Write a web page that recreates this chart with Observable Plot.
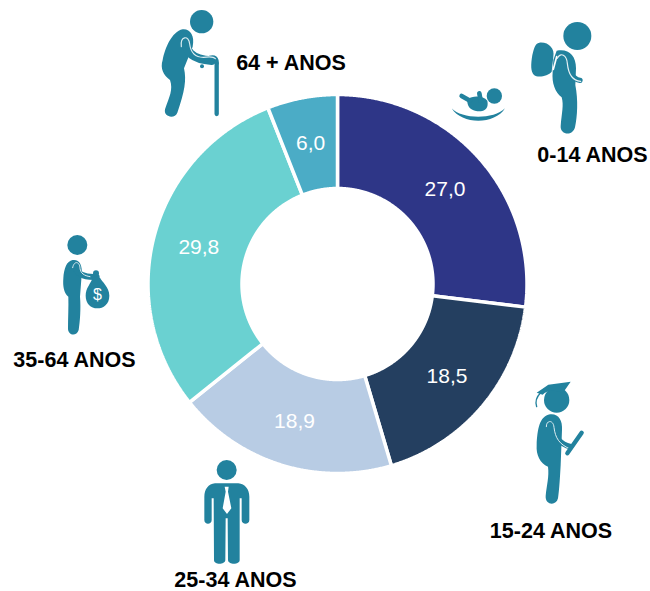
<!DOCTYPE html>
<html>
<head>
<meta charset="utf-8">
<script src="https://cdn.jsdelivr.net/npm/d3@7"></script>
<script src="https://cdn.jsdelivr.net/npm/@observablehq/plot@0.6"></script>
<style>
html,body{margin:0;padding:0;background:#fff}
svg{display:block}
</style>
</head>
<body>
<div id="chart"></div>
<script>
// --- Data ---
const categories = ["0-14 ANOS", "15-24 ANOS", "25-34 ANOS", "35-64 ANOS", "64 + ANOS"];
const values = [27.0, 18.5, 18.9, 29.8, 6.0];
const valueLabels = ["27,0", "18,5", "18,9", "29,8", "6,0"];
const colors = ["#2e3687", "#243f60", "#b8cce4", "#6ad1d1", "#4bacc6"];

// --- Layout (page pixels) ---
const W = 650, H = 591;
const cx = 337, cy = 283.5, R = 189.5, r0 = 95.5, rText = 143.5;
const labelX = [592, 550.5, 235, 74, 290.5];
const labelY = [155, 531, 579.5, 360, 63];
const TEAL = "#22829e";

const sum = d3.sum(values);
const polar = (a, rad) => ({x: cx + rad * Math.sin(a), y: cy - rad * Math.cos(a)});
const slices = [];
const wedgePts = [];
let acc = 0;
categories.forEach((c, i) => {
  const a0 = acc / sum * 2 * Math.PI;
  acc += values[i];
  const a1 = acc / sum * 2 * Math.PI;
  const n = Math.ceil((a1 - a0) / 0.005);
  for (let k = 0; k <= n; k++) wedgePts.push({c, ...polar(a0 + (a1 - a0) * k / n, R)});
  for (let k = n; k >= 0; k--) wedgePts.push({c, ...polar(a0 + (a1 - a0) * k / n, r0)});
  slices.push({c, label: valueLabels[i], ...polar((a0 + a1) / 2, rText)});
});
const labels = categories.map((c, i) => ({c, x: labelX[i], y: labelY[i]}));

// --- Pictograms, authored as [dx, dy, shapes] at 3x scale ---
const P = (d, o = {}) => ({d, ...o});
const C = (x, y, rad) => P(`M${x - rad} ${y}a${rad} ${rad} 0 1 0 ${2 * rad} 0a${rad} ${rad} 0 1 0 ${-2 * rad} 0Z`);
const S = (d, w, col = TEAL) => ({d, stroke: col, sw: w});
const icons = [
  // elderly
  [140, 0, [
    C(185, 65, 35),
    P("M128 88C150 86 165 106 158 140L132 205C140 240 134 275 112 338C105 358 70 352 75 328C88 290 100 270 90 240C70 225 60 205 68 180C75 145 95 95 128 88Z"),
    S("M136 118C136 150 150 178 215 182", 26),
    S("M198 178C226 164 232 176 230 196L230 342", 13),
    C(186, 199, 6),
    S("M124 140C120 108 146 104 149 132C152 155 165 172 190 172C205 170 220 168 226 176", 3.5, "#dcecf1")
  ]],
  // child with backpack
  [440, 10, [
    C(412, 78, 42),
    P("M298 98C325 95 345 115 340 140L335 185C325 197 295 205 282 195C272 185 272 165 277 135C282 115 285 100 298 98Z"),
    P("M350 122C385 115 408 135 408 175L406 225C415 270 412 320 405 352C398 380 360 375 362 348C365 310 372 285 365 262C345 245 335 220 338 185L340 150Z"),
    S("M380 150C385 180 395 208 420 211", 16),
    S("M352 145C362 125 380 135 382 160C385 190 395 212 422 214", 3.5, "#e6f1f4"),
    S("M350 140L340 178", 5, "#fff"),
    // baby
    C(163, 258, 23),
    P("M82 268C100 255 130 258 142 272C146 292 138 305 112 304C92 302 80 290 82 268Z"),
    S("M65 258L90 272", 14),
    S("M118 250L122 272", 14),
    P("M35 295C65 328 160 330 195 295C165 345 65 345 35 295Z")
  ]],
  // money bag
  [0, 225, [
    C(232, 60, 30),
    P("M218 105C238 102 248 120 245 150L240 215C243 250 240 290 236 315C230 335 205 332 204 312C204 280 206 245 205 215C192 205 188 185 190 160C192 130 200 108 218 105Z"),
    S("M226 125C232 150 255 158 290 156", 18),
    S("M218 128C222 105 240 110 240 130C242 145 252 152 270 155", 3, "#dcecf1"),
    C(288, 145, 9),
    P("M278 158L300 158C305 170 328 185 328 212C328 238 310 250 292 250C272 250 257 235 257 212C257 188 273 175 278 158Z"),
    {text: "$", x: 292, y: 225, size: 48}
  ]],
  // suit
  [170, 450, [
    C(170, 60, 30),
    P("M135 100L205 100C225 102 238 118 238 140L238 210C238 225 215 225 215 210L215 145L209 145L209 330C209 345 175 345 174 330L173 205L167 205L166 330C165 345 132 345 132 330L131 145L125 145L125 210C125 225 103 225 103 210L103 140C103 118 115 102 135 100Z"),
    P("M164 110L176 110L174 125L184 175L171 192L158 175L167 125Z", {fill: "#fff"})
  ]],
  // graduate
  [480, 370, [
    C(230, 90, 38),
    P("M170 68L205 44L272 35L248 70C228 58 200 60 188 74Z"),
    S("M182 68C170 80 165 95 170 110", 4),
    P("M210 133C235 130 248 150 246 180L242 285C240 320 238 360 234 385C228 410 195 405 197 378C200 345 208 320 204 290C180 280 168 255 170 225C172 180 178 138 210 133Z"),
    S("M222 170C225 205 240 222 272 230", 17),
    S("M199 170C198 150 220 148 222 172C226 205 238 222 268 236", 3, "#dcecf1"),
    S("M262 250L305 188", 13)
  ]]
];

const iconMark = (index, {x, y}) => {
  const g = d3.create("svg:g");
  icons.forEach(([dx, dy, shapes]) => {
    const ig = g.append("g").attr("transform", `translate(${x(dx)},${y(dy)}) scale(${1 / 3})`);
    shapes.forEach(s => {
      if (s.text) {
        ig.append("text").attr("x", s.x).attr("y", s.y).attr("text-anchor", "middle")
          .attr("fill", "#fff").attr("font-family", "Liberation Sans").attr("font-size", s.size).text(s.text);
      } else if (s.stroke) {
        ig.append("path").attr("d", s.d).attr("fill", "none").attr("stroke", s.stroke)
          .attr("stroke-width", s.sw).attr("stroke-linecap", "round").attr("stroke-linejoin", "round");
      } else {
        ig.append("path").attr("d", s.d).attr("fill", s.fill || TEAL);
      }
    });
  });
  return g.node();
};

const chart = Plot.plot({
  width: W, height: H,
  margin: 0,
  style: {background: "#fff", overflow: "visible"},
  x: {domain: [0, W], range: [0, W], axis: null},
  y: {domain: [0, H], range: [0, H], axis: null},
  color: {domain: categories, range: colors},
  marks: [
    Plot.line(wedgePts, {x: "x", y: "y", z: "c", fill: "c", stroke: "#fff", strokeWidth: 3.5, curve: "linear-closed", strokeLinejoin: "miter"}),
    Plot.text(slices, {x: "x", y: "y", text: "label", fill: "#fff", fontSize: 21, fontFamily: "Liberation Sans"}),
    Plot.text(labels, {x: "x", y: "y", text: "c", fill: "#000", fontSize: 21.5, fontWeight: 700, fontFamily: "Liberation Sans"}),
    iconMark
  ]
});
document.getElementById("chart").append(chart);
</script>
</body>
</html>
